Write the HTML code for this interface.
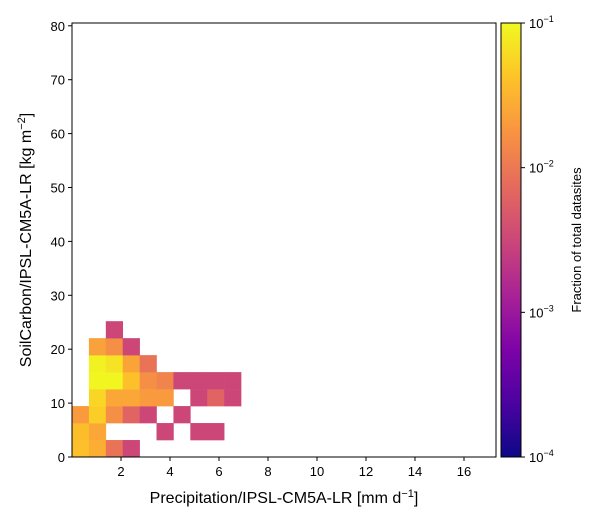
<!DOCTYPE html>
<html><head><meta charset="utf-8"><style>
body{margin:0;background:#fff;font-family:"Liberation Sans",sans-serif;}
svg text{font-family:"Liberation Sans",sans-serif;}
</style></head><body>
<svg id="c" width="600" height="525" xmlns="http://www.w3.org/2000/svg">
<defs><linearGradient id="cb" x1="0" y1="1" x2="0" y2="0">
<stop offset="0" stop-color="#0d0887"/><stop offset="0.125" stop-color="#4c02a1"/><stop offset="0.25" stop-color="#7e03a8"/><stop offset="0.375" stop-color="#a92395"/><stop offset="0.5" stop-color="#cc4778"/><stop offset="0.625" stop-color="#e56b5d"/><stop offset="0.75" stop-color="#f89441"/><stop offset="0.875" stop-color="#fdc328"/><stop offset="1" stop-color="#f0f921"/></linearGradient></defs>
<g id="cells"></g>
<rect x="72" y="23" width="424" height="434" fill="none" stroke="#000" stroke-width="1"/>
<g id="ticks"></g>
<text x="284" y="503" font-size="16" text-anchor="middle">Precipitation/IPSL-CM5A-LR [mm d<tspan dy="-6" font-size="11">−1</tspan><tspan dy="6">]</tspan></text>
<text transform="translate(31,240) rotate(-90)" font-size="16" text-anchor="middle">SoilCarbon/IPSL-CM5A-LR [kg m<tspan dy="-6" font-size="11">−2</tspan><tspan dy="6">]</tspan></text>
<rect x="501" y="23" width="20" height="434" fill="url(#cb)" stroke="#000" stroke-width="1"/>
<text transform="translate(581,240) rotate(-90)" font-size="13" text-anchor="middle">Fraction of total datasites</text>
</svg>
<script>
const xTicks=[2,4,6,8,10,12,14,16];
const yTicks=[0,10,20,30,40,50,60,70,80];
const cbTicks=[-4,-3,-2,-1];
// cells: [xBin, yBin, log10 fraction]
const cellX=[0,1,2,3, 0,1,5,7,8, 0,1,2,3,4,6, 1,2,3,4,5,7,8,9, 1,2,3,4,5,6,7,8,9, 1,2,3,4, 1,2,3, 2];
const cellY=[0,0,0,0, 1,1,1,1,1, 2,2,2,2,2,2, 3,3,3,3,3,3,3,3, 4,4,4,4,4,4,4,4,4, 5,5,5,5, 6,6,6, 7];
const cellV=[-1.4,-1.55,-2.05,-2.5, -1.42,-1.6,-2.5,-2.5,-2.5, -1.7,-1.3,-1.8,-2.2,-2.5,-2.5, -1.25,-1.6,-1.6,-1.7,-1.7,-2.5,-2.2,-2.5, -1.02,-1.02,-1.4,-1.8,-1.9,-2.5,-2.5,-2.5,-2.5, -1.05,-1.15,-1.62,-2.05, -1.65,-1.8,-2.5, -2.5];
const binW=0.69, binH=3.15;
const X=v=>72+v*24.5, Y=v=>457-v*5.39, CB=v=>457-(v+4)/3*434;
const stops=["#0d0887","#4c02a1","#7e03a8","#a92395","#cc4778","#e56b5d","#f89441","#fdc328","#f0f921"];
function hex(h){return [1,3,5].map(i=>parseInt(h.substr(i,2),16));}
function cmap(t){t=Math.max(0,Math.min(1,t))*8;const i=Math.min(7,Math.floor(t)),f=t-i;const a=hex(stops[i]),b=hex(stops[i+1]);return "rgb("+a.map((v,k)=>Math.round(v+(b[k]-v)*f)).join(",")+")";}
const NS="http://www.w3.org/2000/svg";
const g=document.getElementById('cells'),tg=document.getElementById('ticks');
function mk(p,tag,at){const e=document.createElementNS(NS,tag);for(const k in at)e.setAttribute(k,at[k]);p.appendChild(e);return e;}
cellV.forEach((v,i)=>{
 const x0=X(cellX[i]*binW),x1=X((cellX[i]+1)*binW),y0=Y((cellY[i]+1)*binH),y1=Y(cellY[i]*binH);
 const r=mk(g,'rect',{x:x0,y:y0,width:x1-x0+0.3,height:y1-y0+0.3,fill:cmap((v+4)/3)});
 
 
});
xTicks.forEach(v=>{
 const l=mk(tg,'line',{x1:X(v),x2:X(v),y1:457,y2:461,stroke:'#000'});
 
 
 const t=mk(tg,'text',{x:X(v),y:476,'font-size':13,'text-anchor':'middle'});t.textContent=v;
 
 
});
yTicks.forEach(v=>{
 const l=mk(tg,'line',{x1:68,x2:72,y1:Y(v),y2:Y(v),stroke:'#000'});
 
 
 const t=mk(tg,'text',{x:65,y:Y(v)+5,'font-size':13,'text-anchor':'end'});t.textContent=v;
 
 
});
cbTicks.forEach(v=>{
 const l=mk(tg,'line',{x1:521,x2:525,y1:CB(v),y2:CB(v),stroke:'#000'});
 
 
 const t=mk(tg,'text',{x:529,y:CB(v)+5,'font-size':13});
 
 
 t.innerHTML='10<tspan dy="-6" font-size="9">'+(v<0?'−':'')+Math.abs(v)+'</tspan>';
});
</script>
</body></html>
